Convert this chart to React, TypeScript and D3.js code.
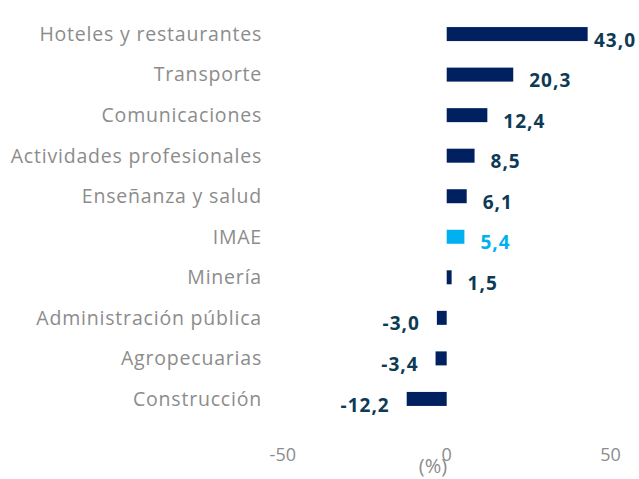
import React from "react";
import * as d3 from "d3";

const categories = [
  "Hoteles y restaurantes",
  "Transporte",
  "Comunicaciones",
  "Actividades profesionales",
  "Enseñanza y salud",
  "IMAE",
  "Minería",
  "Administración pública",
  "Agropecuarias",
  "Construcción",
];
const values = [43.0, 20.3, 12.4, 8.5, 6.1, 5.4, 1.5, -3.0, -3.4, -12.2];
const highlight = ["IMAE"];
const xTicks = [-50, 0, 50];

const W = 639;
const H = 479;

export default function App() {
  const x = d3.scaleLinear().domain([-50, 50]).range([282.8, 610.6]);
  const y = d3
    .scaleBand<string>()
    .domain(categories)
    .range([13.7, 419.3])
    .paddingInner(0.655)
    .paddingOuter(0.33);
  const bh = 14;
  const fmt = (v: number) => v.toFixed(1).replace(".", ",");
  const font = "'Open Sans', 'DejaVu Sans', sans-serif";
  return (
    <div style={{ position: "fixed", left: 0, top: 0 }}>
      <svg width={W} height={H} style={{ display: "block" }}>
        <rect width={W} height={H} fill="#ffffff" />
        {categories.map((c, i) => {
          const v = values[i];
          const cy = (y(c) as number) + y.bandwidth() / 2;
          const hl = highlight.includes(c);
          const x0 = x(Math.min(0, v));
          const x1 = x(Math.max(0, v));
          const labelColor = hl ? "#00b0f0" : "#0d3a55";
          let lx = v >= 0 ? x1 + 16 : x0 - 17;
          const anchor = v >= 0 ? "start" : "end";
          if (v >= 0 && lx + 45 > W) lx = W - 45;
          return (
            <g key={c}>
              <text
                x={262}
                y={cy}
                dy="0.35em"
                textAnchor="end"
                fontFamily={font}
                fontSize={19.5}
                letterSpacing={0.8}
                fill="#8c8c8c"
              >
                {c}
              </text>
              <rect
                x={x0}
                y={cy - bh / 2}
                width={x1 - x0}
                height={bh}
                fill={hl ? "#00b0f0" : "#002060"}
              />
              <text
                x={lx}
                y={cy + 6}
                dy="0.35em"
                textAnchor={anchor}
                fontFamily={font}
                fontWeight={700}
                fontSize={19}
                letterSpacing={1}
                fill={labelColor}
              >
                {fmt(v)}
              </text>
            </g>
          );
        })}
        {xTicks.map((t) => (
          <text
            key={t}
            x={x(t)}
            y={455}
            dy="0.35em"
            textAnchor="middle"
            fontFamily={font}
            fontSize={18}
            fill="#8c8c8c"
          >
            {t}
          </text>
        ))}
        <text
          x={433}
          y={466}
          dy="0.35em"
          textAnchor="middle"
          fontFamily={font}
          fontSize={20}
          fill="#8c8c8c"
        >
          (%)
        </text>
      </svg>
    </div>
  );
}
